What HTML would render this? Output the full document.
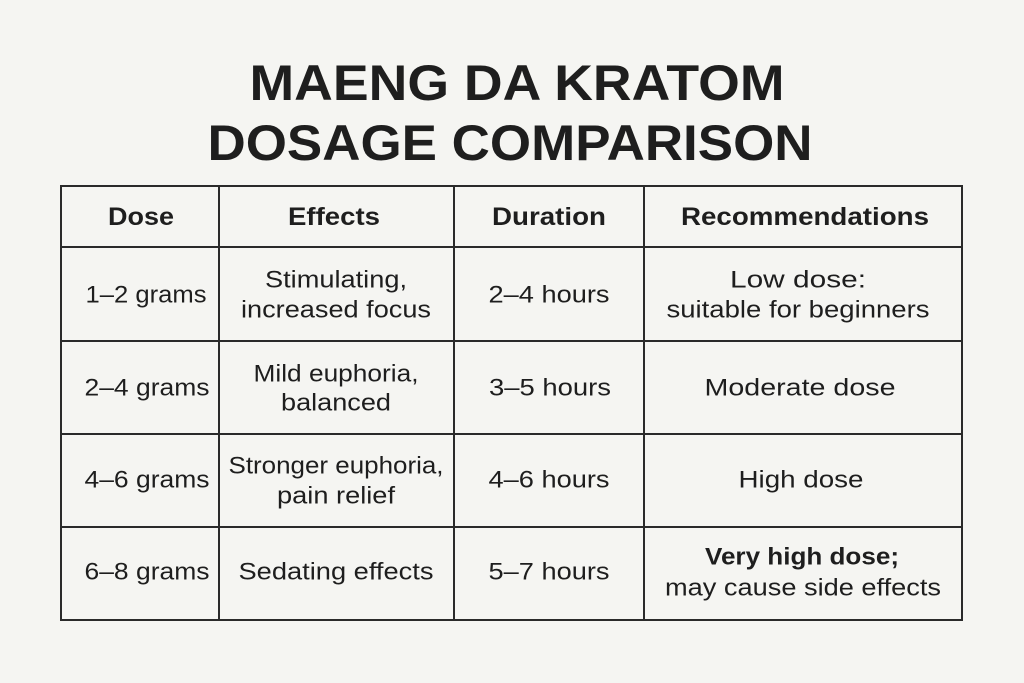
<!DOCTYPE html>
<html><head><meta charset="utf-8"><style>
html,body{margin:0;padding:0;background:#f5f5f2;}
svg{display:block;}
text{font-family:"Liberation Sans",sans-serif;fill:#1e1e1e;}
.t{font-weight:bold;font-size:50px;}
.h{font-weight:bold;font-size:25px;}
.b{font-size:24px;}
</style></head><body>
<svg width="1024" height="683" viewBox="0 0 1024 683" xmlns="http://www.w3.org/2000/svg">
<rect width="1024" height="683" fill="#f5f5f2"/>
<text class="t" x="517" y="100" text-anchor="middle" textLength="535" lengthAdjust="spacingAndGlyphs">MAENG DA KRATOM</text>
<text class="t" x="510" y="160" text-anchor="middle" textLength="605" lengthAdjust="spacingAndGlyphs">DOSAGE COMPARISON</text>
<g stroke="#2a2a2a" stroke-width="2" fill="none">
<rect x="61" y="186" width="901" height="434"/>
<line x1="219" y1="186" x2="219" y2="620"/>
<line x1="454" y1="186" x2="454" y2="620"/>
<line x1="644" y1="186" x2="644" y2="620"/>
<line x1="61" y1="247" x2="962" y2="247"/>
<line x1="61" y1="341" x2="962" y2="341"/>
<line x1="61" y1="434" x2="962" y2="434"/>
<line x1="61" y1="527" x2="962" y2="527"/>
</g>
<g text-anchor="middle" dominant-baseline="central" lengthAdjust="spacingAndGlyphs">
<text class="h" x="141" y="217" textLength="66" lengthAdjust="spacingAndGlyphs">Dose</text>
<text class="h" x="334" y="217" textLength="92" lengthAdjust="spacingAndGlyphs">Effects</text>
<text class="h" x="549" y="217" textLength="114" lengthAdjust="spacingAndGlyphs">Duration</text>
<text class="h" x="805" y="217" textLength="248" lengthAdjust="spacingAndGlyphs">Recommendations</text>

<text class="b" x="146" y="295" textLength="121" lengthAdjust="spacingAndGlyphs">1–2 grams</text>
<text class="b" x="336" y="280" textLength="142" lengthAdjust="spacingAndGlyphs">Stimulating,</text>
<text class="b" x="336" y="310" textLength="190" lengthAdjust="spacingAndGlyphs">increased focus</text>
<text class="b" x="549" y="295" textLength="121" lengthAdjust="spacingAndGlyphs">2–4 hours</text>
<text class="b" x="798" y="280" textLength="136" lengthAdjust="spacingAndGlyphs">Low dose:</text>
<text class="b" x="798" y="310" textLength="263" lengthAdjust="spacingAndGlyphs">suitable for beginners</text>

<text class="b" x="147" y="388" textLength="125" lengthAdjust="spacingAndGlyphs">2–4 grams</text>
<text class="b" x="336" y="374" textLength="165" lengthAdjust="spacingAndGlyphs">Mild euphoria,</text>
<text class="b" x="336" y="403" textLength="110" lengthAdjust="spacingAndGlyphs">balanced</text>
<text class="b" x="550" y="388" textLength="122" lengthAdjust="spacingAndGlyphs">3–5 hours</text>
<text class="b" x="800" y="388" textLength="191" lengthAdjust="spacingAndGlyphs">Moderate dose</text>

<text class="b" x="147" y="480" textLength="125" lengthAdjust="spacingAndGlyphs">4–6 grams</text>
<text class="b" x="336" y="466" textLength="215" lengthAdjust="spacingAndGlyphs">Stronger euphoria,</text>
<text class="b" x="336" y="496" textLength="118" lengthAdjust="spacingAndGlyphs">pain relief</text>
<text class="b" x="549" y="480" textLength="121" lengthAdjust="spacingAndGlyphs">4–6 hours</text>
<text class="b" x="801" y="480" textLength="125" lengthAdjust="spacingAndGlyphs">High dose</text>

<text class="b" x="147" y="572" textLength="125" lengthAdjust="spacingAndGlyphs">6–8 grams</text>
<text class="b" x="336" y="572" textLength="195" lengthAdjust="spacingAndGlyphs">Sedating effects</text>
<text class="b" x="549" y="572" textLength="121" lengthAdjust="spacingAndGlyphs">5–7 hours</text>
<text class="b" x="802" y="557" style="font-weight:bold" textLength="194" lengthAdjust="spacingAndGlyphs">Very high dose;</text>
<text class="b" x="803" y="588" textLength="276" lengthAdjust="spacingAndGlyphs">may cause side effects</text>
</g>
</svg>
</body></html>
